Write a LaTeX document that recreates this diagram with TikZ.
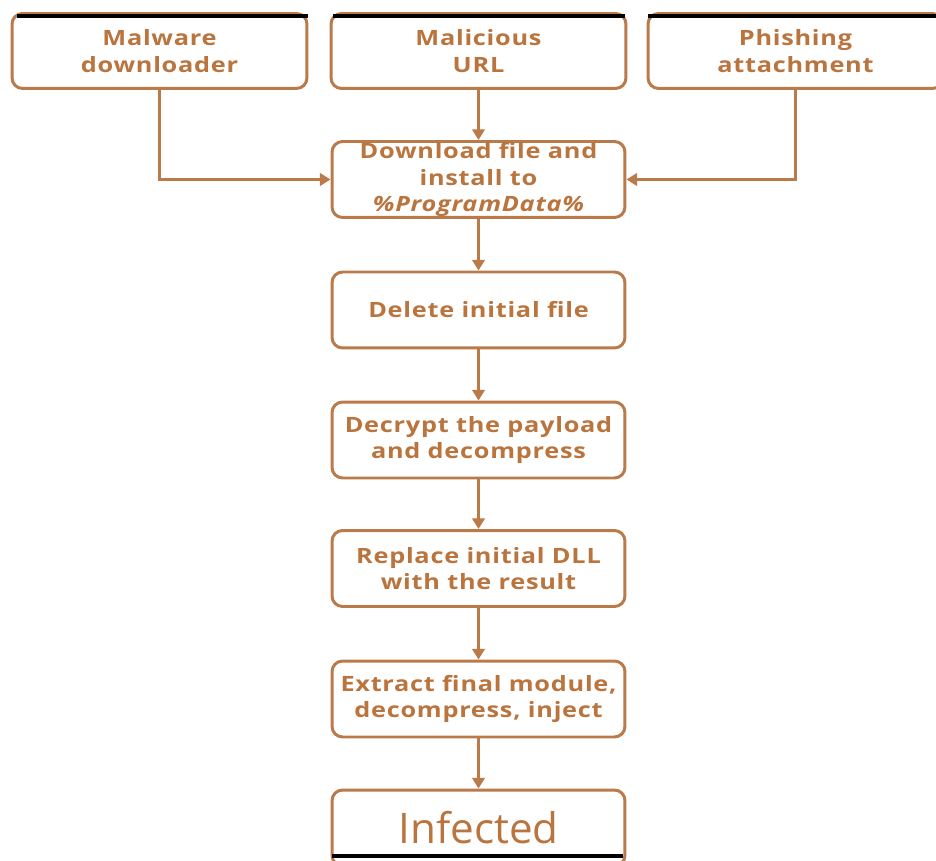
\documentclass[tikz,border=0pt]{standalone}
\usepackage{fontspec}
\setmainfont{Open Sans}
\newfontfamily\boxfont[FakeStretch=1.2, LetterSpace=3.5]{Open Sans}
\usetikzlibrary{arrows.meta}
\definecolor{brn}{RGB}{186,122,74}
\definecolor{brntext}{RGB}{186,116,62}
\begin{document}
\begin{tikzpicture}[x=0.02cm, y=-0.02cm, >={Triangle[width=7pt,length=6pt]},
  box/.style={draw=brn, line width=1.7pt, rounded corners=6pt, fill=white,
    text=brntext, font=\boxfont\bfseries\fontsize{12}{15}\selectfont, align=center,
    minimum width=5.86cm, minimum height=1.52cm, inner sep=0pt},
  topbox/.style={box, minimum width=5.9cm, minimum height=1.5cm},
  link/.style={draw=brn, line width=1.7pt, ->},
  edge/.style={line width=2.8pt, black}]

\useasboundingbox (0,0) rectangle (936,861);
\clip (0,0) rectangle (936,861);
\fill[white] (0,0) rectangle (936,861);

\node[topbox] (mwd) at (159.5,51) {Malware\\downloader};
\node[topbox] (url) at (478.5,51) {Malicious\\URL};
\node[topbox] (phish) at (795.5,51) {Phishing\\attachment};

\node[box] (dl) at (478.5,179.5) {Download file and\\install to\\\itshape\%ProgramData\%};
\node[box] (del) at (478.5,310) {Delete initial file};
\node[box] (dec) at (478.5,440) {Decrypt the payload\\and decompress};
\node[box] (rep) at (478.5,568.5) {Replace initial DLL\\with the result};
\node[box] (ext) at (478.5,699) {Extract final module,\\decompress, inject};
\node[box, font=\fontsize{24}{28}\selectfont] (inf) at (478.5,828) {Infected};

\draw[edge] (17,16)--(308,16);
\draw[edge] (333,16)--(625,16);
\draw[edge] (648,16)--(936,16);
\draw[edge] (332,856)--(623,856);

\draw[link] (url) -- (dl);
\draw[link] (mwd.south) |- (dl.west);
\draw[link] (phish.south) |- (dl.east);
\draw[link] (dl) -- (del);
\draw[link] (del) -- (dec);
\draw[link] (dec) -- (rep);
\draw[link] (rep) -- (ext);
\draw[link] (ext) -- (inf);

\end{tikzpicture}
\end{document}
